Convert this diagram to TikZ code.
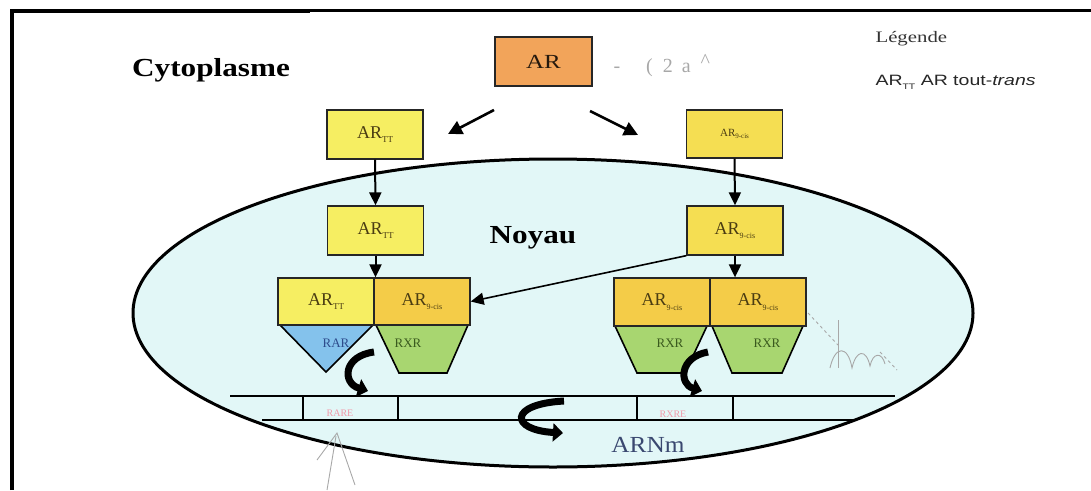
\documentclass[tikz,border=0pt]{standalone}
\usepackage{fontspec}
\setmainfont{Liberation Serif}
\newfontfamily\arialf{Liberation Sans}
\usepackage{graphicx}
\usetikzlibrary{arrows.meta}
\definecolor{cytfill}{HTML}{E2F7F7}
\definecolor{arorange}{HTML}{F2A45A}
\definecolor{yel}{HTML}{F6EE62}
\definecolor{yelb}{HTML}{F5DE52}
\definecolor{gold}{HTML}{F4CC48}
\definecolor{rarblue}{HTML}{84C2EC}
\definecolor{rxrgreen}{HTML}{A8D670}
\definecolor{boxtxt}{HTML}{4A3C12}
\definecolor{rartxt}{HTML}{2E4C8C}
\definecolor{rxrtxt}{HTML}{3A5A1E}
\definecolor{pinktxt}{HTML}{F09AAA}
\definecolor{arnm}{HTML}{3A4870}
\definecolor{pencil}{HTML}{A8A8A8}
\newcommand{\hst}[2]{\scalebox{#1}[1]{#2}}
\newcommand{\arsub}[3]{{\fontsize{#1}{#1}\selectfont AR\raisebox{-0.25em}{\fontsize{#2}{#2}\selectfont #3}}}
\begin{document}
\begin{tikzpicture}[x=1pt,y=-1pt,
  box/.style={draw=black!85, line width=1.3pt, inner sep=0pt, minimum width=96pt, minimum height=48pt, text=boxtxt},
  arr/.style={line width=2pt, -{Triangle[length=13pt,width=12pt]}},
  darr/.style={line width=2.6pt, -{Triangle[length=14pt,width=14pt]}},
  curv/.style={line width=7pt, -{Triangle[length=10pt,width=18pt]}},
  dna/.style={line width=1.8pt, black},
  shp/.style={draw=black, line width=1.6pt},
  pen/.style={draw=pencil, line width=0.9pt}]
\useasboundingbox (0,0) rectangle (1091,490);
% frame
\draw[line width=4pt] (12,490) -- (12,10.5) -- (310,10.5);
\draw[line width=3.3pt] (310,10.5) -- (1091,10.5);
% nucleus
\filldraw[fill=cytfill, draw=black, line width=3pt] (553,313) ellipse [x radius=420pt, y radius=154pt];
% titles
\node[font=\fontsize{26}{28}\selectfont\bfseries] (cyto) at (211,70) {\hst{1.2}{Cytoplasme}};
\node[font=\fontsize{26}{28}\selectfont\bfseries] (noyau) at (533,238) {\hst{1.2}{Noyau}};
% legend
\node[font=\fontsize{16}{18}\selectfont, text=black!80, anchor=west] (leg) at (872,39) {\hst{1.3}{Légende}};
\node[font=\arialf\fontsize{15}{18}\selectfont, text=black!85, anchor=west] (legtt) at (872,82) {\hst{1.3}{AR\raisebox{-0.25em}{\fontsize{8}{8}\selectfont TT} AR tout-\textit{trans}}};
% pencil marks near AR
\node[text=pencil, font=\fontsize{20}{20}\selectfont, anchor=west] (pm) at (610,66) {-\hspace{26pt}(\hspace{10pt}2\hspace{9pt}a\hspace{10pt}\raisebox{5pt}{\textasciicircum}};
% boxes
\node[box, fill=arorange, minimum width=97pt, minimum height=49pt, text=black!80!brown] (ar) at (543.5,61.5) {\hst{1.25}{\fontsize{20}{20}\selectfont AR}};
\node[box, fill=yel, minimum height=49pt] (artt1) at (375,134.5) {\arsub{18}{9}{TT}};
\node[box, fill=yel, minimum height=49pt] (artt2) at (375.5,230.5) {\arsub{18}{9}{TT}};
\node[box, fill=yelb] (ar9a) at (734.5,134) {\arsub{11}{7}{9-cis}};
\node[box, fill=yelb, minimum height=49pt] (ar9b) at (735,230.5) {\arsub{18}{8}{9-cis}};
% receptor shapes
\filldraw[shp, fill=rarblue] (280,325) -- (373,325) -- (326,372) -- cycle;
\filldraw[shp, fill=rxrgreen] (376,325) -- (468,325) -- (447,373) -- (399,373) -- cycle;
\filldraw[shp, fill=rxrgreen] (615,326) -- (707,326) -- (685,373) -- (637,373) -- cycle;
\filldraw[shp, fill=rxrgreen] (712,326) -- (803,326) -- (782,373) -- (732,373) -- cycle;
\node[box, fill=yel, minimum height=47pt] (ctt) at (326,301.5) {\arsub{18}{9}{TT}};
\node[box, fill=gold, minimum height=47pt] (c9l) at (422,301.5) {\arsub{18}{8}{9-cis}};
\node[box, fill=gold] (c9r1) at (662,302) {\arsub{18}{8}{9-cis}};
\node[box, fill=gold] (c9r2) at (758,302) {\arsub{18}{8}{9-cis}};
\node[text=rartxt, font=\fontsize{13}{13}\selectfont] (rar) at (336,343) {RAR};
\node[text=rxrtxt, font=\fontsize{13}{13}\selectfont] (rxr1) at (408,343) {RXR};
\node[text=rxrtxt, font=\fontsize{13}{13}\selectfont] (rxr2) at (670,343) {RXR};
\node[text=rxrtxt, font=\fontsize{13}{13}\selectfont] (rxr3) at (767,343) {RXR};
% connectors
\coordinate (la) at (494,110);
\coordinate (lb) at (448,134);
\coordinate (ra) at (590,111);
\coordinate (rb) at (638,135);
\draw[darr] (la) -- (lb);
\draw[darr] (ra) -- (rb);
\draw[arr] (artt1.south) -- (artt2.north);
\draw[arr] (artt2.south) -- (artt2.south |- ctt.north);
\draw[arr] (ar9a.south) -- (ar9b.north);
\draw[arr] (ar9b.south) -- (ar9b.south |- c9r2.north);
\draw[arr, line width=1.6pt] (ar9b.south west) -- (c9l.east);
% DNA
\draw[dna] (230,396) -- (895,396);
\draw[dna] (262,420) -- (857,420);
\foreach \xx in {303,398,637,733} \draw[dna] (\xx,396) -- (\xx,420);
\node[text=pinktxt, font=\fontsize{10}{10}\selectfont] (rare) at (340,413) {RARE};
\node[text=pinktxt, font=\fontsize{10}{10}\selectfont] (rxre) at (673,414) {RXRE};
% curved arrows
\draw[curv] (374,352) .. controls (343,356) and (342,383) .. (368,391);
\draw[curv] (708,352) .. controls (679,357) and (679,384) .. (702,391);
\draw[curv] (564,401) .. controls (508,404) and (510,430) .. (563,433);
\node[text=arnm, font=\fontsize{23}{23}\selectfont] (arn) at (648,445) {\hst{1.1}{ARNm}};
% pencil scribbles
\draw[pen] (317,460) -- (337,433) -- (355,485);
\draw[pen] (327,490) -- (336,436);
\draw[pen, dashed] (808,313) -- (838,345);
\draw[pen] (838,320) -- (838,368);
\draw[pen] (830,368) .. controls (835,345) and (848,345) .. (852,368) .. controls (856,350) and (866,348) .. (870,366) .. controls (873,352) and (882,352) .. (885,364);
\draw[pen, dashed] (880,352) -- (897,370);
\end{tikzpicture}
\end{document}
